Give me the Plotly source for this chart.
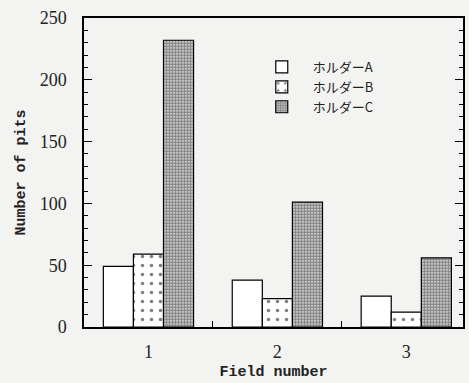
import plotly.graph_objects as go

fields = [1, 2, 3]
field_labels = ["1", "2", "3"]
holder_a = [49, 38, 25]
holder_b = [59, 23, 12]
holder_c = [232, 101, 56]
names = ["ホルダーA", "ホルダーB", "ホルダーC"]

fig = go.Figure()
fig.add_trace(go.Bar(x=fields, y=holder_a, name=names[0],
                     marker=dict(color="white", line=dict(color="black", width=1.2))))
fig.add_trace(go.Bar(x=fields, y=holder_b, name=names[1],
                     marker=dict(color="white", line=dict(color="black", width=1.2),
                                 pattern=dict(shape=".", fgcolor="black", bgcolor="white",
                                              size=9, solidity=0.12))))
fig.add_trace(go.Bar(x=fields, y=holder_c, name=names[2],
                     marker=dict(color="white", line=dict(color="black", width=1.2),
                                 pattern=dict(shape=".", fgcolor="#222", bgcolor="#e8e8e8",
                                              size=3, solidity=0.7))))

serif = "Liberation Serif, Times New Roman, serif"
fig.update_layout(
    width=469, height=383,
    margin=dict(l=84, r=6, t=18, b=56),
    paper_bgcolor="#f3f3f1", plot_bgcolor="#f3f3f1",
    barmode="group", bargap=0.3, bargroupgap=0,
    showlegend=True,
    legend=dict(x=0.44, y=0.89, xanchor="left", yanchor="top",
                bgcolor="rgba(0,0,0,0)", font=dict(family="Noto Sans CJK JP", size=13, color="#222"),
                itemwidth=52, tracegroupgap=0),
    font=dict(family=serif, color="#222"),
)
fig.update_xaxes(
    range=[0.5, 3.44], tickvals=fields, ticktext=field_labels, automargin=False,
    ticks="inside", ticklen=0, showgrid=False, zeroline=False,
    showline=True, linecolor="black", linewidth=1.5, mirror=True,
    tickfont=dict(family=serif, size=18), ticklabelstandoff=8,
    minor=dict(tick0=0.5, dtick=1, ticks="inside", ticklen=6, tickcolor="black", showgrid=False),
    title=dict(text="<b>Field number</b>", font=dict(family="Liberation Mono", size=15), standoff=4),
)
fig.update_yaxes(
    range=[0, 250], dtick=50, ticks="inside", ticklen=8, tickcolor="black", automargin=False,
    showgrid=False, zeroline=False,
    showline=True, linecolor="black", linewidth=1.5, mirror="allticks",
    tickfont=dict(family=serif, size=18), ticklabelstandoff=12,
    minor=dict(dtick=10, ticks="inside", ticklen=4, tickcolor="black", showgrid=False),
    title=dict(text="<b>Number of pits</b>", font=dict(family="Liberation Mono", size=15), standoff=10),
)

fig.write_html("out.html", config={"displayModeBar": False},
               post_script="document.body.style.margin='0';document.body.style.background='#f3f3f1';")
